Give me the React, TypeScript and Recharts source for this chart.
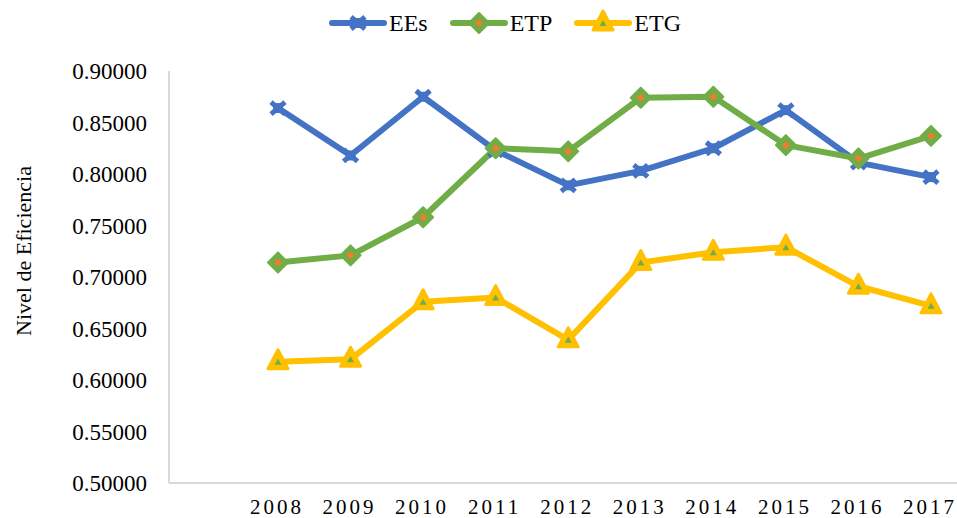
import React from 'react';
import { LineChart, Line, XAxis, YAxis } from 'recharts';

const years = ['2008', '2009', '2010', '2011', '2012', '2013', '2014', '2015', '2016', '2017'];
const eesValues = [0.864, 0.818, 0.875, 0.823, 0.789, 0.803, 0.825, 0.862, 0.811, 0.797];
const etpValues = [0.714, 0.721, 0.758, 0.825, 0.822, 0.874, 0.875, 0.828, 0.815, 0.837];
const etgValues = [0.6177, 0.6201, 0.676, 0.68, 0.639, 0.714, 0.724, 0.729, 0.691, 0.672];
const yTicks = [0.5, 0.55, 0.6, 0.65, 0.7, 0.75, 0.8, 0.85, 0.9];
const seriesNames = ['EEs', 'ETP', 'ETG'];
const yTitle = 'Nivel de Eficiencia';

const data = years.map((y, i) => ({
  year: y,
  EEs: eesValues[i],
  ETP: etpValues[i],
  ETG: etgValues[i],
}));

const BLUE = '#4472C4';
const GREEN = '#70AD47';
const GOLD = '#FFC000';
const ORANGE = '#ED7D31';
const FONT = 'Liberation Serif, Times New Roman, Times, serif';

function XMark({ cx, cy }: { cx: number; cy: number }) {
  return (
    <g>
      <path
        d={`M${cx - 7},${cy - 6}L${cx + 7},${cy + 6}M${cx - 7},${cy + 6}L${cx + 7},${cy - 6}`}
        stroke={BLUE}
        strokeWidth={5}
        fill="none"
      />
      <rect x={cx - 5} y={cy - 5} width={10} height={10} fill={BLUE} />
    </g>
  );
}

function DiamondMark({ cx, cy }: { cx: number; cy: number }) {
  return (
    <g>
      <path
        d={`M${cx},${cy - 10}L${cx + 10},${cy}L${cx},${cy + 10}L${cx - 10},${cy}Z`}
        fill={GREEN}
        stroke={GREEN}
        strokeWidth={2}
        strokeLinejoin="round"
      />
      <path d={`M${cx},${cy - 4}L${cx + 4},${cy}L${cx},${cy + 4}L${cx - 4},${cy}Z`} fill={ORANGE} />
    </g>
  );
}

function TriangleMark({ cx, cy }: { cx: number; cy: number }) {
  return (
    <g>
      <path
        d={`M${cx},${cy - 12}L${cx + 10},${cy + 7}L${cx - 10},${cy + 7}Z`}
        fill={GOLD}
        stroke={GOLD}
        strokeWidth={3}
        strokeLinejoin="round"
      />
      <path d={`M${cx},${cy - 3}L${cx + 3.5},${cy + 3}L${cx - 3.5},${cy + 3}Z`} fill={GREEN} />
    </g>
  );
}

const markers: Record<string, (p: { cx: number; cy: number }) => React.ReactElement> = {
  EEs: XMark,
  ETP: DiamondMark,
  ETG: TriangleMark,
};
const colors: Record<string, string> = { EEs: BLUE, ETP: GREEN, ETG: GOLD };

function LegendIcon({ name }: { name: string }) {
  const M = markers[name];
  return (
    <svg width={58} height={30} style={{ display: 'block' }}>
      <line x1={3} y1={15} x2={55} y2={15} stroke={colors[name]} strokeWidth={6} strokeLinecap="round" />
      <M cx={29} cy={15} />
    </svg>
  );
}

function YearTick(props: any) {
  const { x, y, payload } = props;
  return (
    <text
      x={x - 1}
      y={y}
      dy="0.71em"
      textAnchor="middle"
      fill="#000"
      fontSize={21}
      letterSpacing={3}
      style={{ fontFamily: FONT }}
    >
      {payload.value}
    </text>
  );
}

export default function App() {
  return (
    <div
      style={{
        position: 'absolute',
        left: 0,
        top: 0,
        width: 957,
        height: 518,
        overflow: 'hidden',
        background: '#fff',
        fontFamily: FONT,
      }}
    >
      <LineChart
        width={957}
        height={518}
        data={data}
        margin={{ top: 71, right: 0, bottom: 0, left: 0 }}
        style={{ fontFamily: FONT }}
      >
        <XAxis
          dataKey="year"
          interval={0}
          padding={{ left: 109, right: 26 }}
          axisLine={{ stroke: '#d9d9d9', strokeWidth: 2 }}
          tickLine={false}
          tickSize={0}
          tickMargin={16}
          height={35}
          tick={<YearTick />}
        />
        <YAxis
          domain={[0.5, 0.9]}
          ticks={yTicks}
          type="number"
          allowDataOverflow
          tickFormatter={(v: number) => v.toFixed(5)}
          axisLine={{ stroke: '#d9d9d9', strokeWidth: 2 }}
          tickLine={false}
          tickSize={0}
          tickMargin={22}
          width={169}
          tick={{ fill: '#000', fontSize: 23, fontFamily: FONT, style: { fontFamily: FONT } }}
          label={{
            content: (props: any) => {
              const vb = props.viewBox || { x: 0, y: 71, width: 169, height: 412 };
              const x = vb.x + 23;
              const y = vb.y + vb.height / 2 - 26;
              return (
                <text
                  x={x}
                  y={y}
                  transform={`rotate(-90, ${x}, ${y})`}
                  textAnchor="middle"
                  dominantBaseline="central"
                  fontSize={22}
                  style={{ fontFamily: FONT }}
                  fill="#000"
                >
                  {yTitle}
                </text>
              );
            },
          }}
        />
        {seriesNames.map((name) => {
          const M = markers[name];
          return (
            <Line
              key={name}
              type="linear"
              dataKey={name}
              stroke={colors[name]}
              strokeWidth={6}
              strokeLinejoin="round"
              isAnimationActive={false}
              dot={(p: any) => <M key={`${name}-${p.index}`} cx={p.cx} cy={p.cy} />}
              activeDot={false}
            />
          );
        })}
      </LineChart>
      <div
        style={{
          position: 'absolute',
          top: 8,
          left: 329,
          height: 30,
          display: 'flex',
          alignItems: 'center',
          fontFamily: FONT,
          fontSize: 24,
          color: '#000',
          lineHeight: '30px',
        }}
      >
        {seriesNames.map((name) => (
          <div key={name} style={{ display: 'flex', alignItems: 'center', marginRight: 22 }}>
            <LegendIcon name={name} />
            <span style={{ marginLeft: 2 }}>{name}</span>
          </div>
        ))}
      </div>
    </div>
  );
}
